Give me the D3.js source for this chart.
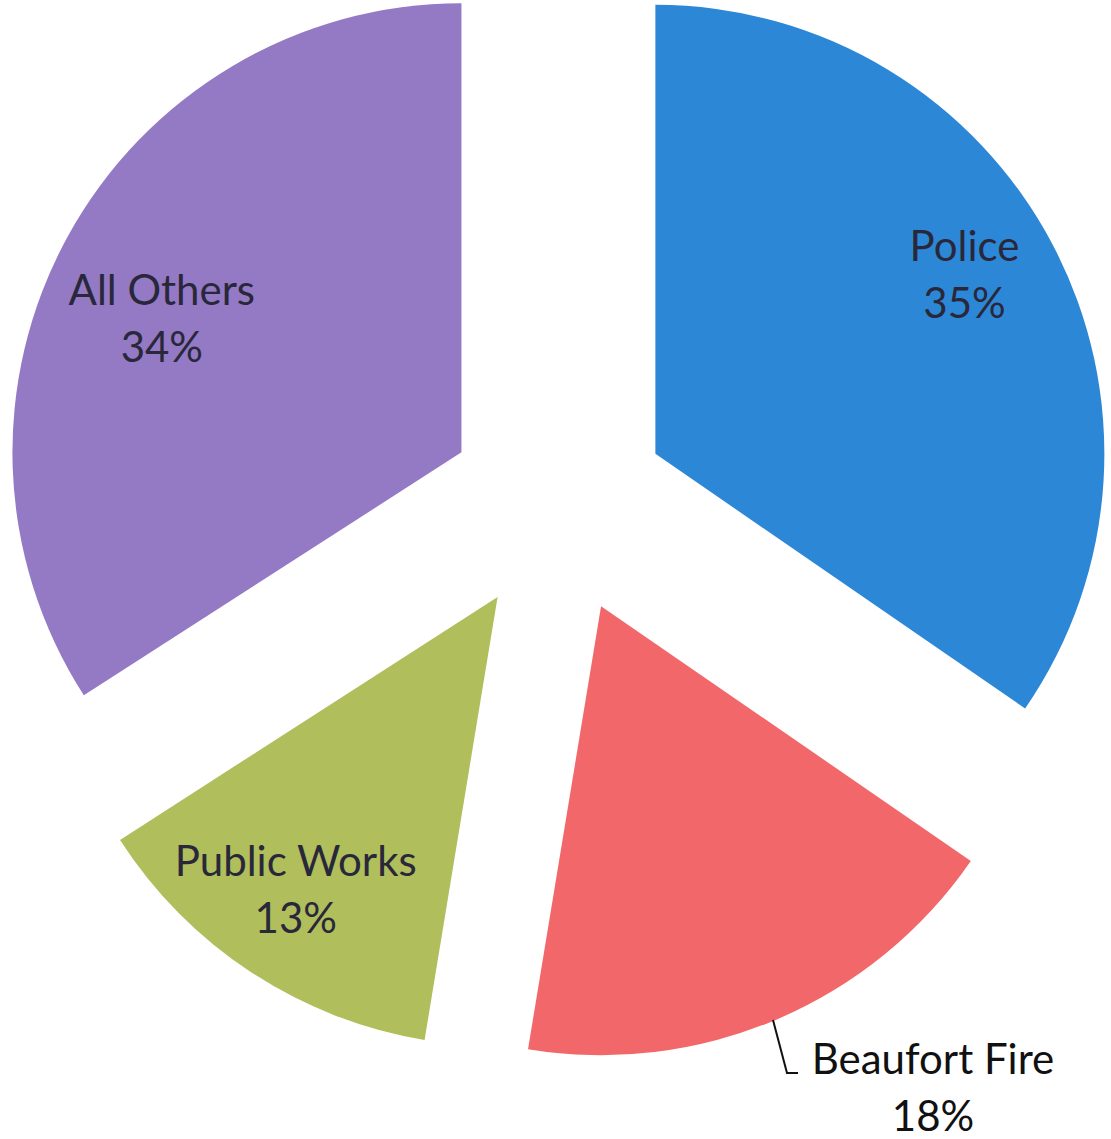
<!DOCTYPE html>
<html>
<head>
<meta charset="utf-8">
<script src="https://cdnjs.cloudflare.com/ajax/libs/d3/7.8.5/d3.min.js"></script>
<style>
  html, body { margin: 0; padding: 0; background: #ffffff; }
  svg { display: block; }
  text { font-family: Lato, "Open Sans", sans-serif; }
</style>
</head>
<body>
<svg id="chart" width="1111" height="1139"></svg>
<script>
// ---- data ----
const categories = ["Police", "Beaufort Fire", "Public Works", "All Others"];
const values = [34.6, 18.0, 13.3, 34.1];
const colors = ["#2d87d7", "#f2676a", "#b0be5b", "#9479c4"];

// ---- layout ----
const cx = 558, cy = 505, R = 449, explode = 110;
const labelR = 0.75 * R;
const nudges = [[11, -22], [0, 0], [-17, 12], [-4, 28]];
const fireLabel = { x: 933, y: 1088 };
const fontSize = 42;
const lineGap = 57;

const svg = d3.select("#chart");
const total = d3.sum(values);
const pct = v => Math.round(v / total * 100) + "%";
const pie = d3.pie().sort(null).value(d => d.v);
const arcs = pie(categories.map((c, i) => ({ c, v: values[i], i })));
const arc = d3.arc().innerRadius(0).outerRadius(R);
const labelArc = d3.arc().innerRadius(labelR).outerRadius(labelR);

const g = svg.append("g").attr("transform", `translate(${cx},${cy})`);

arcs.forEach(a => {
  const mid = (a.startAngle + a.endAngle) / 2;
  a.ox = Math.sin(mid) * explode;
  a.oy = -Math.cos(mid) * explode;
});

g.selectAll("path.slice").data(arcs).enter().append("path")
  .attr("class", "slice")
  .attr("transform", d => `translate(${d.ox},${d.oy})`)
  .attr("d", arc)
  .attr("fill", d => colors[d.data.i]);

function addLabel(x, y, name, p, fill) {
  const t = svg.append("text")
    .attr("text-anchor", "middle")
    .attr("font-size", fontSize)
    .attr("fill", fill);
  t.append("tspan").attr("x", x).attr("y", y - 14).text(name);
  t.append("tspan").attr("x", x).attr("y", y - 14 + lineGap).text(p);
}

arcs.forEach(a => {
  const i = a.data.i;
  if (categories[i] === "Beaufort Fire") return;
  const c = labelArc.centroid(a);
  const x = cx + a.ox + c[0] + nudges[i][0];
  const y = cy + a.oy + c[1] + nudges[i][1];
  addLabel(x, y, categories[i], pct(values[i]), "#29283a");
});

// Beaufort Fire outside label with leader line
svg.append("path")
  .attr("d", `M773,1020 L787,1073 L798,1073`)
  .attr("fill", "none")
  .attr("stroke", "#111")
  .attr("stroke-width", 2);
addLabel(fireLabel.x, fireLabel.y, categories[1], pct(values[1]), "#111111");
</script>
</body>
</html>
